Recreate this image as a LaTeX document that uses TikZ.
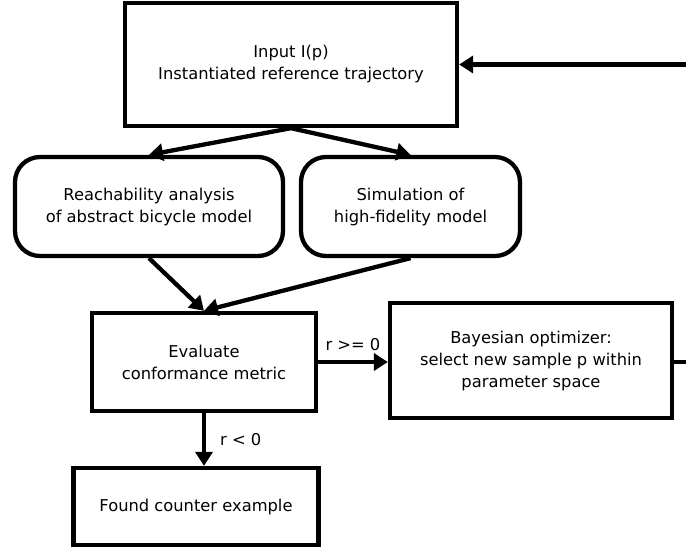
\documentclass[tikz,border=0pt]{standalone}
\usepackage{fontspec}
\setmainfont{DejaVu Sans}
\usetikzlibrary{arrows.meta}
\begin{document}
\begin{tikzpicture}[x=1pt,y=-1pt,
  every node/.style={font=\fontsize{16.3}{22}\selectfont},
  box/.style={draw,line width=4.3pt,align=center,inner sep=0pt,fill=white},
  roundbox/.style={box,rounded corners=25pt},
  flow/.style={line width=4.3pt,-{Triangle[length=14pt,width=17pt]}},
  lbl/.style={inner sep=2pt}]
\useasboundingbox (0,0) rectangle (686,547);

% process boxes
\node[box,minimum width=332pt,minimum height=123pt] (input) at (291,64.5)
  {Input I(p)\\Instantiated reference trajectory};
\node[roundbox,minimum width=268pt,minimum height=99pt] (reach) at (149,206.5)
  {Reachability analysis\\of abstract bicycle model};
\node[roundbox,minimum width=219pt,minimum height=99pt] (sim) at (410.5,206.5)
  {Simulation of\\high-fidelity model};
\node[box,minimum width=224pt,minimum height=98pt] (eval) at (204,362)
  {Evaluate\\conformance metric};
\node[box,minimum width=282pt,minimum height=115pt] (bayes) at (531,360.5)
  {Bayesian optimizer:\\select new sample p within\\parameter space};
\node[box,minimum width=245pt,minimum height=77pt] (found) at (196,506.5)
  {Found counter example};

% loop ends running off the right side
\coordinate (loopin) at (686,64.5);
\coordinate (loopout) at (686,362);

% connectors
\draw[flow] (input.south) -- (reach.north);
\draw[flow] (input.south) -- (sim.north);
\draw[flow] (reach.south) -- (eval.north);
\draw[flow] (sim.south) -- (eval.north);
\draw[flow] (eval.east) -- node[lbl,above=7pt] {r >= 0} (eval.east -| bayes.west);
\draw[flow] (eval.south) -- node[lbl,right=12pt] {r < 0} (eval.south |- found.north);
\draw[line width=4.3pt] (bayes.east |- loopout) -- (loopout);
\draw[flow] (loopin) -- (input.east);
\end{tikzpicture}
\end{document}
